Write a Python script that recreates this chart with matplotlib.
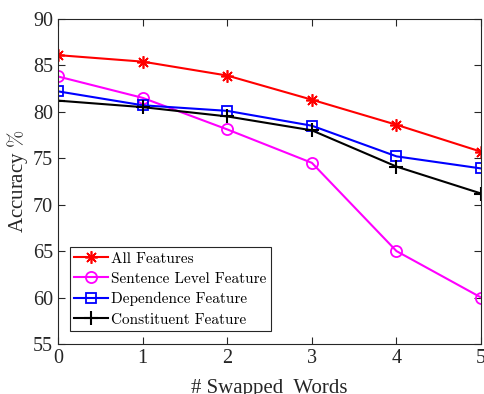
import matplotlib
matplotlib.use("Agg")
import matplotlib.pyplot as plt

x = [0, 1, 2, 3, 4, 5]
all_features = [86.1, 85.4, 83.9, 81.3, 78.6, 75.7]
sentence_level = [83.8, 81.5, 78.1, 74.5, 65.0, 60.0]
dependence = [82.2, 80.7, 80.1, 78.5, 75.2, 73.9]
constituent = [81.2, 80.5, 79.5, 78.0, 74.1, 71.2]
labels = ["All Features", "Sentence Level Feature", "Dependence Feature", "Constituent Feature"]

plt.rcParams['font.family'] = ['Liberation Serif', 'DejaVu Serif']
plt.rcParams['mathtext.fontset'] = 'cm'

fig = plt.figure(figsize=(4.84, 3.94), dpi=100)
ax = fig.add_axes([0.12, 0.127, 0.874, 0.825])

ax.plot(x, all_features, color='red', marker=(8, 2, 0), markersize=9, lw=1.5, mew=1.2, label=labels[0])
ax.plot(x, sentence_level, color='magenta', marker='o', markersize=8, lw=1.5, mfc='none', mew=1.3, label=labels[1])
ax.plot(x, dependence, color='blue', marker='s', markersize=7, lw=1.5, mfc='none', mew=1.3, label=labels[2])
ax.plot(x, constituent, color='black', marker='+', markersize=10, lw=1.5, mew=1.5, label=labels[3])

ax.set_xlim(0, 5)
ax.set_ylim(55, 90)
ax.set_xticks(x)
ax.set_yticks([55, 60, 65, 70, 75, 80, 85, 90])
ax.tick_params(direction='in', top=True, right=True, labelsize=14.5, colors='#262626', length=5)
for s in ax.spines.values():
    s.set_color('#262626')
ax.set_xlabel('# Swapped  Words', fontsize=15, color='#262626', labelpad=8)
ax.set_ylabel('Accuracy $\\%$', fontsize=15, color='#262626', labelpad=2)

leg = ax.legend(loc='lower left', bbox_to_anchor=(0.02, 0.03), fancybox=False,
                prop={'family': 'cmr10', 'size': 11},
                edgecolor='#262626', framealpha=1, handlelength=2.2, handletextpad=0.2,
                borderpad=0.3, labelspacing=0.42, borderaxespad=0.2)
leg.get_frame().set_linewidth(0.8)

fig.savefig('out.png', dpi=100)
